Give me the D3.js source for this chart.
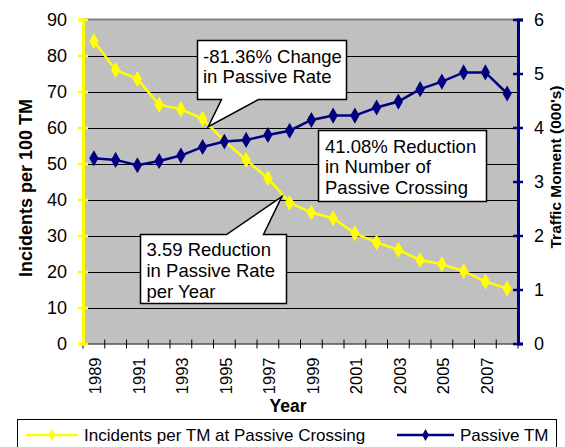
<!DOCTYPE html>
<html>
<head>
<meta charset="utf-8">
<script src="https://cdn.jsdelivr.net/npm/d3@7"></script>
<style>
  body { margin: 0; background: #fff; }
  svg { display: block; font-family: "Liberation Sans", Arial, sans-serif; }
</style>
</head>
<body>
<div id="chart"></div>
<script>
// chart data
var years = ["1989", "1990", "1991", "1992", "1993", "1994", "1995", "1996", "1997", "1998",
  "1999", "2000", "2001", "2002", "2003", "2004", "2005", "2006", "2007", "2008"];
var incidents = [84.0, 76.0, 73.5, 66.3, 65.1, 62.4, 56.3, 51.0, 45.9, 39.1,
  36.4, 34.8, 30.6, 28.1, 26.0, 23.2, 22.0, 20.1, 17.2, 15.3];
var passiveTM = [3.43, 3.40, 3.30, 3.38, 3.48, 3.64, 3.74, 3.77, 3.86, 3.94,
  4.14, 4.22, 4.22, 4.37, 4.48, 4.71, 4.85, 5.02, 5.02, 4.63];
var leftTicks = [0, 10, 20, 30, 40, 50, 60, 70, 80, 90];
var rightTicks = [0, 1, 2, 3, 4, 5, 6];
var seriesNames = ["Incidents per TM at Passive Crossing", "Passive TM"];

var width = 565;
var height = 447;
var plot = { left: 83, right: 518, top: 19.5, bottom: 343.5 };
var yellow = "#FFFF00";
var navy = "#000080";

var svg = d3
  .select("#chart")
  .append("svg")
  .attr("width", width)
  .attr("height", height);

var x = d3.scaleBand().domain(years).range([plot.left, plot.right]);
var xi = d3.scaleLinear().domain([-0.5, years.length - 0.5]).range([plot.left, plot.right]);
var yL = d3.scaleLinear().domain([0, 90]).range([plot.bottom, plot.top]);
var yR = d3.scaleLinear().domain([0, 6]).range([plot.bottom, plot.top]);

// plot background
svg
  .append("rect")
  .attr("x", plot.left)
  .attr("y", plot.top)
  .attr("width", plot.right - plot.left)
  .attr("height", plot.bottom - plot.top)
  .style("fill", "#C0C0C0");

// gridlines
svg
  .selectAll(".grid")
  .data(leftTicks.slice(1, -1))
  .enter()
  .append("line")
  .attr("class", "grid")
  .attr("x1", plot.left)
  .attr("x2", plot.right)
  .attr("y1", (d) => Math.round(yL(d)) + 0.5)
  .attr("y2", (d) => Math.round(yL(d)) + 0.5)
  .style("stroke", "#000")
  .style("stroke-width", 1);

svg
  .append("line")
  .attr("x1", plot.left)
  .attr("x2", plot.right)
  .attr("y1", yL(90))
  .attr("y2", yL(90))
  .style("stroke", "#808080")
  .style("stroke-width", 2);

// bottom axis
var xAxis = svg
  .append("g")
  .attr("transform", "translate(0," + plot.bottom + ")")
  .call(
    d3.axisBottom(x)
      .tickSize(0)
      .tickFormat((d, i) => (i % 2 === 0 ? d : ""))
  );
xAxis.select(".domain").style("stroke", "#000").style("stroke-width", 1.2);
xAxis
  .selectAll("text")
  .attr("transform", "rotate(-90)")
  .attr("x", -14)
  .attr("y", 0)
  .attr("dy", "0.45em")
  .style("text-anchor", "end")
  .style("font-size", "16.5px")
  .style("fill", "#000");

svg
  .selectAll(".xtick")
  .data(years.concat(["end"]))
  .enter()
  .append("line")
  .attr("class", "xtick")
  .attr("x1", (d, i) => xi(i - 0.5))
  .attr("x2", (d, i) => xi(i - 0.5))
  .attr("y1", plot.bottom - 4)
  .attr("y2", plot.bottom + 5)
  .style("stroke", "#000")
  .style("stroke-width", 1);

// left axis
var leftAxis = svg
  .append("g")
  .attr("transform", "translate(" + plot.left + ",0)")
  .call(d3.axisLeft(yL).tickValues(leftTicks).tickSize(5).tickPadding(11));
leftAxis.select(".domain").style("stroke", yellow).style("stroke-width", 3);
leftAxis.selectAll(".tick line").attr("x1", 5).style("stroke", yellow).style("stroke-width", 2.5);
leftAxis.selectAll("text").style("font-size", "18px").style("fill", "#000");

// right axis
var rightAxis = svg
  .append("g")
  .attr("transform", "translate(" + plot.right + ",0)")
  .call(d3.axisRight(yR).tickValues(rightTicks).tickFormat(d3.format("d")).tickSize(5).tickPadding(11));
rightAxis.select(".domain").style("stroke", navy).style("stroke-width", 3);
rightAxis.selectAll(".tick line").attr("x1", -5).style("stroke", navy).style("stroke-width", 2.5);
rightAxis.selectAll("text").style("font-size", "18px").style("fill", "#000");

// axis titles
svg
  .append("text")
  .attr("transform", "translate(32,188) rotate(-90)")
  .style("text-anchor", "middle")
  .style("font-weight", "bold")
  .style("font-size", "18px")
  .text("Incidents per 100 TM");

svg
  .append("text")
  .attr("transform", "translate(561,167) rotate(-90)")
  .style("text-anchor", "middle")
  .style("font-weight", "bold")
  .style("font-size", "15.5px")
  .text("Traffic Moment (000's)");

svg
  .append("text")
  .attr("x", 288)
  .attr("y", 412)
  .style("text-anchor", "middle")
  .style("font-weight", "bold")
  .style("font-size", "17.5px")
  .text("Year");

// series
var diamond = d3.symbol().type(d3.symbolDiamond).size(75);

function drawSeries(values, yScale, color) {
  var line = d3
    .line()
    .x((d, i) => x(years[i]) + x.bandwidth() / 2)
    .y((d) => yScale(d));
  svg
    .append("path")
    .datum(values)
    .attr("d", line)
    .style("fill", "none")
    .style("stroke", color)
    .style("stroke-width", 2.5);
  svg
    .selectAll(".pt-" + color.slice(1))
    .data(values)
    .enter()
    .append("path")
    .attr("class", "pt-" + color.slice(1))
    .attr("d", diamond)
    .attr("transform", (d, i) =>
      "translate(" + (x(years[i]) + x.bandwidth() / 2) + "," + yScale(d) + ")")
    .style("fill", color);
}

drawSeries(incidents, yL, yellow);
drawSeries(passiveTM, yR, navy);

// callouts
var callouts = [
  { box: [197.5, 40.5, 346.5, 99.5], tail: "bottom", base: [221.5, 258.5], tipAt: 5.26, tipVal: 60.2,
    lines: ["-81.36% Change", "in Passive Rate"], tx: 203, ty: 62.5 },
  { box: [318.5, 130.5, 486.5, 201.5], tail: null,
    lines: ["41.08% Reduction", "in Number of", "Passive Crossing"], tx: 325, ty: 152.5 },
  { box: [140.5, 234.5, 286.5, 303.5], tail: "top", base: [226.5, 263.5], tipAt: 8.64, tipVal: 40.8,
    lines: ["3.59 Reduction", "in Passive Rate", "per Year"], tx: 146.5, ty: 256 }
];

callouts.forEach(function (c) {
  var l = c.box[0], t = c.box[1], r = c.box[2], b = c.box[3];
  var p = d3.path();
  if (c.tail === "top") {
    var tx = xi(c.tipAt), ty = yL(c.tipVal);
    p.moveTo(l, t);
    p.lineTo(c.base[0], t);
    p.lineTo(tx, ty);
    p.lineTo(c.base[1], t);
    p.lineTo(r, t);
    p.lineTo(r, b);
    p.lineTo(l, b);
  } else if (c.tail === "bottom") {
    var bx = xi(c.tipAt), by = yL(c.tipVal);
    p.moveTo(l, t);
    p.lineTo(r, t);
    p.lineTo(r, b);
    p.lineTo(c.base[1], b);
    p.lineTo(bx, by);
    p.lineTo(c.base[0], b);
    p.lineTo(l, b);
  } else {
    p.rect(l, t, r - l, b - t);
  }
  p.closePath();
  svg
    .append("path")
    .attr("d", p.toString())
    .style("fill", "#fff")
    .style("stroke", "#000")
    .style("stroke-width", 1.5);

  var g = svg.append("g");
  g.append("clipPath")
    .attr("id", "clip" + Math.round(l))
    .append("rect")
    .attr("x", l)
    .attr("y", t)
    .attr("width", r - l)
    .attr("height", b - t - 0.8);
  g.selectAll("text")
    .data(c.lines)
    .enter()
    .append("text")
    .attr("clip-path", "url(#clip" + Math.round(l) + ")")
    .attr("x", c.tx)
    .attr("y", (d, i) => c.ty + i * 20.8)
    .style("font-size", "18.5px")
    .text((d) => d);
});

// legend
svg
  .append("rect")
  .attr("x", 17.5)
  .attr("y", 419.5)
  .attr("width", 539)
  .attr("height", 40)
  .style("fill", "#fff")
  .style("stroke", "#000")
  .style("stroke-width", 1);

var legendItems = [
  { name: seriesNames[0], color: yellow, x1: 26, x2: 78, tx: 84 },
  { name: seriesNames[1], color: navy, x1: 397, x2: 454, tx: 460 }
];
legendItems.forEach(function (d) {
  svg
    .append("line")
    .attr("x1", d.x1)
    .attr("x2", d.x2)
    .attr("y1", 435)
    .attr("y2", 435)
    .style("stroke", d.color)
    .style("stroke-width", 2.5);
  svg
    .append("path")
    .attr("d", d3.symbol().type(d3.symbolDiamond).size(40))
    .attr("transform", "translate(" + (d.x1 + d.x2) / 2 + ",435)")
    .style("fill", d.color);
  svg
    .append("text")
    .attr("x", d.tx)
    .attr("y", 441)
    .style("font-size", "17px")
    .text(d.name);
});
</script>
</body>
</html>
